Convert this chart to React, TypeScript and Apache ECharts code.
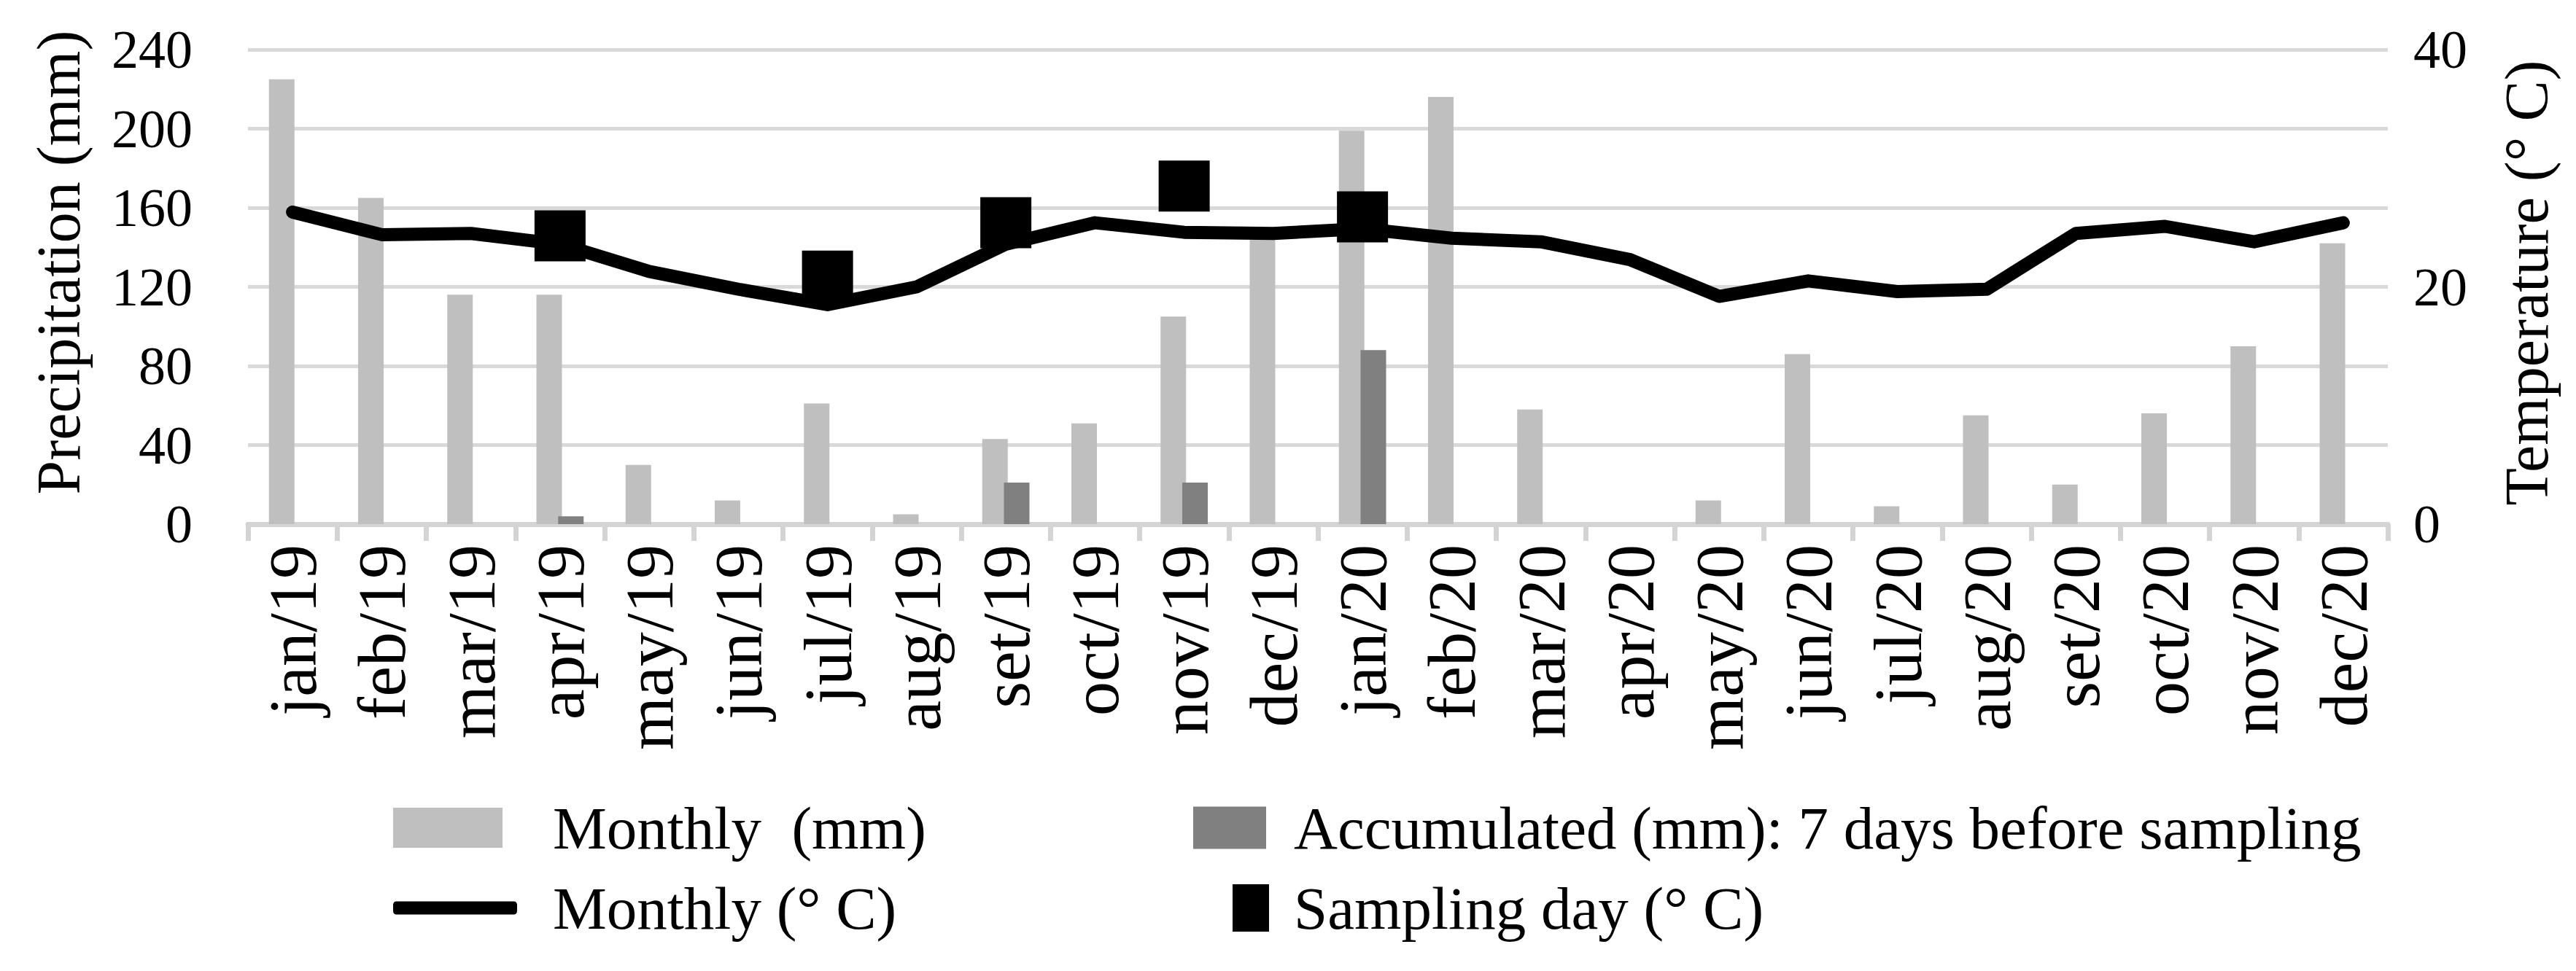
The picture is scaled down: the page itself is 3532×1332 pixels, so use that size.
import React, { useEffect, useRef } from 'react';
import * as echarts from 'echarts';

const categories = [
  'jan/19', 'feb/19', 'mar/19', 'apr/19', 'may/19', 'jun/19', 'jul/19', 'aug/19', 'set/19', 'oct/19', 'nov/19', 'dec/19',
  'jan/20', 'feb/20', 'mar/20', 'apr/20', 'may/20', 'jun/20', 'jul/20', 'aug/20', 'set/20', 'oct/20', 'nov/20', 'dec/20',
];

const monthlyPrecip = [225, 165, 116, 116, 30, 12, 61, 5, 43, 51, 105, 144, 199, 216, 58, 0, 12, 86, 9, 55, 20, 56, 90, 142];

const accumulatedPrecip = [null, null, null, 4, null, null, 0, null, 21, null, 21, null, 88, null, null, null, null, null, null, null, null, null, null, null];

const monthlyTemp = [26.3, 24.4, 24.5, 23.6, 21.3, 19.8, 18.5, 20.0, 23.6, 25.4, 24.6, 24.5, 24.9, 24.1, 23.8, 22.3, 19.2, 20.5, 19.6, 19.8, 24.5, 25.1, 23.8, 25.4];

const samplingTemp = [null, null, null, 24.3, null, null, 20.9, null, 25.4, null, 28.5, null, 25.9, null, null, null, null, null, null, null, null, null, null, null];

const precipTicks = { min: 0, max: 240, interval: 40 };
const tempTicks = { min: 0, max: 40, interval: 20 };

const names = {
  monthlyMm: 'Monthly  (mm)',
  accum: 'Accumulated (mm): 7 days before sampling',
  monthlyC: 'Monthly (° C)',
  sampling: 'Sampling day (° C)',
};

export default function App() {
  const ref = useRef<HTMLDivElement>(null);
  useEffect(() => {
    if (!ref.current) return;
    const chart = echarts.init(ref.current, null, { renderer: 'svg' });
    const ff = 'Liberation Serif';
    const legendText = (pad: number) => ({ fontFamily: ff, fontSize: 83, color: '#000', padding: [0, 0, 0, pad] });
    chart.setOption({
      animation: false,
      backgroundColor: '#fff',
      grid: { left: 340, right: 258, top: 68, bottom: 613, containLabel: false },
      legend: [
        { left: 539, top: 1094, padding: 0, itemWidth: 150, itemHeight: 55, selectedMode: false,
          data: [{ name: names.monthlyMm, icon: 'rect', itemStyle: { color: '#bfbfbf' } }], textStyle: legendText(64) },
        { left: 539, top: 1204, padding: 0, itemWidth: 170, itemHeight: 18, selectedMode: false,
          data: [{ name: names.monthlyC, icon: 'roundRect', itemStyle: { color: '#000' } }], textStyle: legendText(44) },
        { left: 1636, top: 1094, padding: 0, itemWidth: 100, itemHeight: 58, selectedMode: false,
          data: [{ name: names.accum, icon: 'rect', itemStyle: { color: '#808080' } }], textStyle: legendText(33) },
        { left: 1690, top: 1204, padding: 0, itemWidth: 50, itemHeight: 65, selectedMode: false,
          data: [{ name: names.sampling, icon: 'rect', itemStyle: { color: '#000' } }], textStyle: legendText(29) },
      ],
      xAxis: {
        type: 'category',
        data: categories,
        boundaryGap: true,
        axisLine: { lineStyle: { color: '#d4d4d4', width: 7 } },
        axisTick: { show: true, length: 23, lineStyle: { color: '#d4d4d4', width: 7 } },
        axisLabel: { rotate: 90, fontFamily: ff, fontSize: 94, color: '#000', margin: 28, interval: 0 },
      },
      yAxis: [
        {
          type: 'value', ...precipTicks,
          axisLine: { show: false }, axisTick: { show: false },
          splitLine: { lineStyle: { color: '#d9d9d9', width: 5 } },
          axisLabel: { fontFamily: ff, fontSize: 74, color: '#000', margin: 76 },
        },
        {
          type: 'value', position: 'right', ...tempTicks,
          axisLine: { show: false }, axisTick: { show: false },
          splitLine: { show: false },
          axisLabel: { fontFamily: ff, fontSize: 74, color: '#000', margin: 35 },
        },
      ],
      graphic: [
        { type: 'text', x: 80, y: 360, rotation: Math.PI / 2,
          style: { text: 'Precipitation (mm)', fontFamily: ff, fontSize: 84, fill: '#000', textAlign: 'center', textVerticalAlign: 'middle' } },
        { type: 'text', x: 3464, y: 388, rotation: Math.PI / 2,
          style: { text: 'Temperature (° C)', fontFamily: ff, fontSize: 84, fill: '#000', textAlign: 'center', textVerticalAlign: 'middle' } },
      ],
      series: [
        { name: names.monthlyMm, type: 'bar', data: monthlyPrecip, barWidth: 35, barGap: '-15%', itemStyle: { color: '#bfbfbf' }, yAxisIndex: 0 },
        { name: names.accum, type: 'bar', data: accumulatedPrecip, barWidth: 35, itemStyle: { color: '#808080' }, yAxisIndex: 0 },
        { name: names.monthlyC, type: 'line', data: monthlyTemp, yAxisIndex: 1, symbol: 'none', smooth: false,
          lineStyle: { color: '#000', width: 18, cap: 'round', join: 'round' }, itemStyle: { color: '#000' }, z: 3 },
        { name: names.sampling, type: 'scatter', data: samplingTemp, yAxisIndex: 1, symbol: 'rect', symbolSize: 70,
          itemStyle: { color: '#000', opacity: 1 }, z: 4 },
      ],
    });
    return () => chart.dispose();
  }, []);
  return <div ref={ref} style={{ position: 'fixed', left: 0, top: 0, width: 3532, height: 1332, background: '#fff' }} />;
}
